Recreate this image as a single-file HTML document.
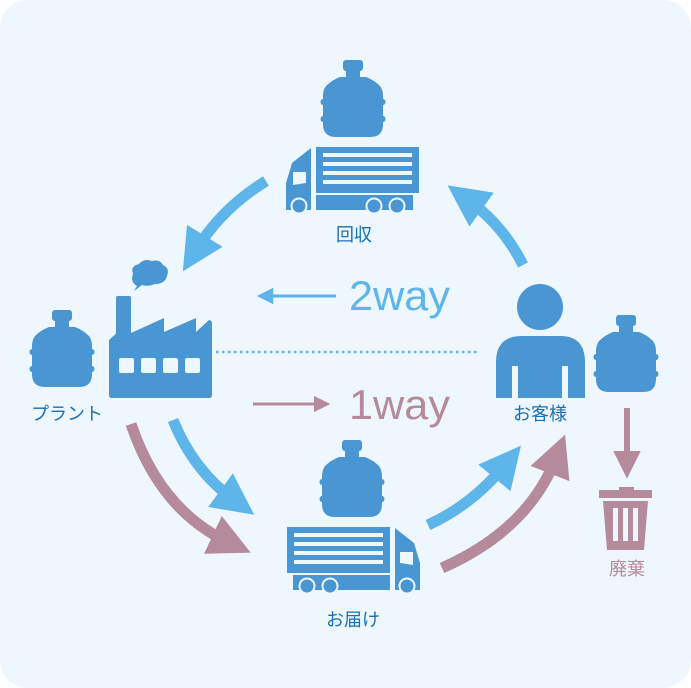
<!DOCTYPE html>
<html><head><meta charset="utf-8"><style>
html,body{margin:0;padding:0;background:#fff;}
svg{display:block;}
text{font-family:"Liberation Sans","Noto Sans CJK JP",sans-serif;}
</style></head><body>
<svg width="691" height="688" viewBox="0 0 691 688" xmlns="http://www.w3.org/2000/svg">
<defs>
<g id="bottle">
<rect x="21" y="0" width="20" height="11" rx="3"/>
<rect x="24" y="9" width="14" height="10"/>
<path d="M18 17 H44 Q52 20 58 26 Q61 30 61 36 V64 Q61 77 48 77 H14 Q1 77 1 64 V36 Q1 30 4 26 Q10 20 18 17Z"/>
<ellipse cx="1" cy="42" rx="2.5" ry="3"/><ellipse cx="61" cy="42" rx="2.5" ry="3"/>
<ellipse cx="1" cy="59" rx="2.5" ry="3"/><ellipse cx="61" cy="59" rx="2.5" ry="3"/>
</g>
<marker id="ab" viewBox="0 0 10 10" refX="4" refY="5" markerWidth="3.8" markerHeight="3.8" orient="auto"><path d="M0 0 L10 5 L0 10Z" fill="#5db5e9"/></marker>
<marker id="am" viewBox="0 0 10 10" refX="4" refY="5" markerWidth="3.8" markerHeight="3.8" orient="auto"><path d="M0 0 L10 5 L0 10Z" fill="#b58a9a"/></marker>
<marker id="am3" viewBox="0 0 10 10" refX="4" refY="5" markerWidth="4.6" markerHeight="4.6" orient="auto"><path d="M0 0 L10 5 L0 10Z" fill="#b58a9a"/></marker>
<marker id="ab2" viewBox="0 0 10 10" refX="5" refY="5" markerWidth="5.5" markerHeight="5.5" orient="auto"><path d="M0 0 L10 5 L0 10Z" fill="#5db5e9"/></marker>
<marker id="am2" viewBox="0 0 10 10" refX="5" refY="5" markerWidth="5.5" markerHeight="5.5" orient="auto"><path d="M0 0 L10 5 L0 10Z" fill="#b58a9a"/></marker>
</defs>
<rect x="0" y="0" width="691" height="688" rx="28" fill="#eff7fe"/>

<g fill="#4a96d2">
<use href="#bottle" x="322" y="60"/>
<use href="#bottle" x="31" y="310"/>
<use href="#bottle" x="595" y="315"/>
<use href="#bottle" x="321" y="440"/>
</g>

<!-- top truck -->
<g fill="#4a96d2">
<rect x="316" y="147" width="103" height="46"/>
<rect x="316" y="195" width="97" height="15"/>
<path d="M311 148 V210 H286 V183 L292 163 L311 148Z"/>
</g>
<g fill="#eff7fe">
<rect x="323" y="153" width="89" height="4"/><rect x="323" y="162" width="89" height="4"/><rect x="323" y="171" width="89" height="4"/><rect x="323" y="180" width="89" height="4"/>
<path d="M293 172 H306 V183 L293 185Z"/>
<circle cx="299" cy="206" r="8.5"/><circle cx="374" cy="206" r="8.5"/><circle cx="397" cy="206" r="8.5"/>
</g>
<g fill="#4a96d2"><circle cx="299" cy="206" r="6.5"/><circle cx="374" cy="206" r="6.5"/><circle cx="397" cy="206" r="6.5"/></g>

<!-- bottom truck -->
<g fill="#4a96d2">
<rect x="287" y="527" width="103" height="46"/>
<rect x="293" y="575" width="97" height="15"/>
<path d="M395 528 V590 H420 V563 L414 543 L395 528Z"/>
</g>
<g fill="#eff7fe">
<rect x="294" y="533" width="89" height="4"/><rect x="294" y="542" width="89" height="4"/><rect x="294" y="551" width="89" height="4"/><rect x="294" y="560" width="89" height="4"/>
<path d="M413 552 H400 V563 L413 565Z"/>
<circle cx="307" cy="586" r="8.5"/><circle cx="330" cy="586" r="8.5"/><circle cx="407" cy="586" r="8.5"/>
</g>
<g fill="#4a96d2"><circle cx="307" cy="586" r="6.5"/><circle cx="330" cy="586" r="6.5"/><circle cx="407" cy="586" r="6.5"/></g>

<!-- factory -->
<g fill="#4a96d2">
<rect x="116" y="296" width="15" height="50" rx="2"/>
<path d="M109 340 L131 320 L131 333 L164 318 V332 L196 318 V332 L209 320 Q212 320 212 324 V395 Q212 398 209 398 H112 Q109 398 109 395Z"/>
<path d="M137 286 Q130 282 133 274 Q130 266 139 264 Q144 258 152 261 Q160 259 163 265 Q170 268 167 276 Q165 284 155 284 Q148 287 142 285 L134 291Z"/>
</g>
<g fill="#eff7fe">
<rect x="119" y="358" width="15" height="15" rx="2"/><rect x="141" y="358" width="15" height="15" rx="2"/><rect x="163" y="358" width="15" height="15" rx="2"/><rect x="185" y="358" width="15" height="15" rx="2"/>
</g>

<!-- person -->
<g fill="#4a96d2">
<circle cx="540" cy="307" r="23"/>
<path d="M496 398 V362 Q496 336 522 336 H560 Q585 336 585 362 V398 H568 V366 H562 V398 H518 V366 H512 V398Z"/>
</g>

<!-- trash -->
<g fill="#b58a9a">
<rect x="619" y="487" width="15" height="4"/>
<rect x="599" y="490" width="53" height="8"/>
<path d="M603 501 H648 L644 550 H607Z"/>
</g>
<g fill="#eff7fe"><rect x="613" y="508" width="5" height="33"/><rect x="623" y="508" width="5" height="33"/><rect x="633" y="508" width="5" height="33"/></g>

<!-- arrows -->
<g fill="none" stroke-width="11">
<path d="M266 181 Q222 208 196 250" stroke="#5db5e9" marker-end="url(#ab)"/>
<path d="M523 265 Q503 225 468 200" stroke="#5db5e9" marker-end="url(#ab)"/>
<path d="M173 420 Q193 470 234 500" stroke="#5db5e9" marker-end="url(#ab)"/>
<path d="M131 424 Q160 510 228 542" stroke="#b58a9a" marker-end="url(#am)"/>
<path d="M428 525 Q472 505 505 465" stroke="#5db5e9" marker-end="url(#ab)"/>
<path d="M442 568 Q528 530 556 458" stroke="#b58a9a" marker-end="url(#am)"/>
</g>
<line x1="336" y1="296" x2="265" y2="296" stroke="#5db5e9" stroke-width="3" marker-end="url(#ab2)"/>
<line x1="253" y1="404" x2="322" y2="404" stroke="#b58a9a" stroke-width="3" marker-end="url(#am2)"/>
<line x1="627" y1="408" x2="627" y2="462" stroke="#b58a9a" stroke-width="6" marker-end="url(#am3)"/>
<line x1="216" y1="352" x2="478" y2="352" stroke="#5db5e9" stroke-width="2.5" stroke-dasharray="2.5 3.5"/>

<text x="349" y="310" font-size="42" fill="#5db5e9" textLength="101" lengthAdjust="spacingAndGlyphs">2way</text>
<text x="349" y="419" font-size="42" fill="#b58a9a" textLength="101" lengthAdjust="spacingAndGlyphs">1way</text>
<g font-size="18" fill="#1a6fb5" text-anchor="middle">
<text x="354" y="241">回収</text>
<text x="67" y="420">プラント</text>
<text x="540" y="420">お客様</text>
<text x="353" y="626">お届け</text>
</g>
<text x="627" y="575" font-size="18" fill="#b58a9a" text-anchor="middle">廃棄</text>
</svg>
</body></html>
